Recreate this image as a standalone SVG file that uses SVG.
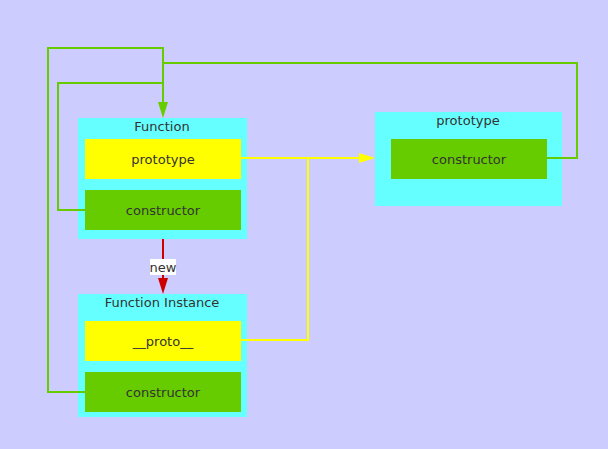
<svg xmlns="http://www.w3.org/2000/svg" width="608" height="449" viewBox="0 0 608 449">
<defs>
<style>
.box{fill:#66FFFF}
.yel{fill:#FFFF00}
.grn{fill:#66CC00}
text{font-family:"DejaVu Sans","Liberation Sans",sans-serif;font-size:13px;fill:#333333;text-anchor:middle}
.lg{fill:none;stroke:#66CC00;stroke-width:2}
.ly{fill:none;stroke:#FFFF00;stroke-width:2}
.lr{fill:none;stroke:#CC0000;stroke-width:2}
</style>
</defs>
<rect width="608" height="449" fill="#CCCCFF"/>
<g id="function">
<rect class="box" x="78" y="118" width="169" height="121"/>
<text x="162" y="131">Function</text>
<rect class="yel" x="85" y="139" width="156" height="40"/>
<text x="163" y="164">prototype</text>
<rect class="grn" x="85" y="190" width="156" height="40"/>
<text x="163" y="215">constructor</text>
</g>
<g id="instance">
<rect class="box" x="78" y="294" width="169" height="123"/>
<text x="162" y="307">Function Instance</text>
<rect class="yel" x="85" y="321" width="156" height="40"/>
<text x="163" y="346">__proto__</text>
<rect class="grn" x="85" y="372" width="156" height="40"/>
<text x="163" y="397">constructor</text>
</g>
<g id="prototype">
<rect class="box" x="375" y="112" width="187" height="94"/>
<text x="468" y="125">prototype</text>
<rect class="grn" x="391" y="139" width="156" height="40"/>
<text x="469" y="164">constructor</text>
</g>
<g id="connectors">
<path class="lg" d="M85,210 H58 V83 H163"/>
<path class="lg" d="M85,392 H48 V48 H163 V104"/>
<path class="lg" d="M547,158 H577 V63 H163"/>
<polygon points="158,102 168,102 163,118" fill="#66CC00"/>
<path class="ly" d="M241,158 H361"/>
<path class="ly" d="M241,340 H308 V158"/>
<polygon points="359,153 359,163 375,158" fill="#FFFF00"/>
<path class="lr" d="M163,239 V280"/>
<polygon points="158,278 168,278 163,294" fill="#CC0000"/>
<rect x="150" y="259" width="26" height="16" fill="#FFFFFF"/>
<text x="163" y="272">new</text>
</g>
</svg>
